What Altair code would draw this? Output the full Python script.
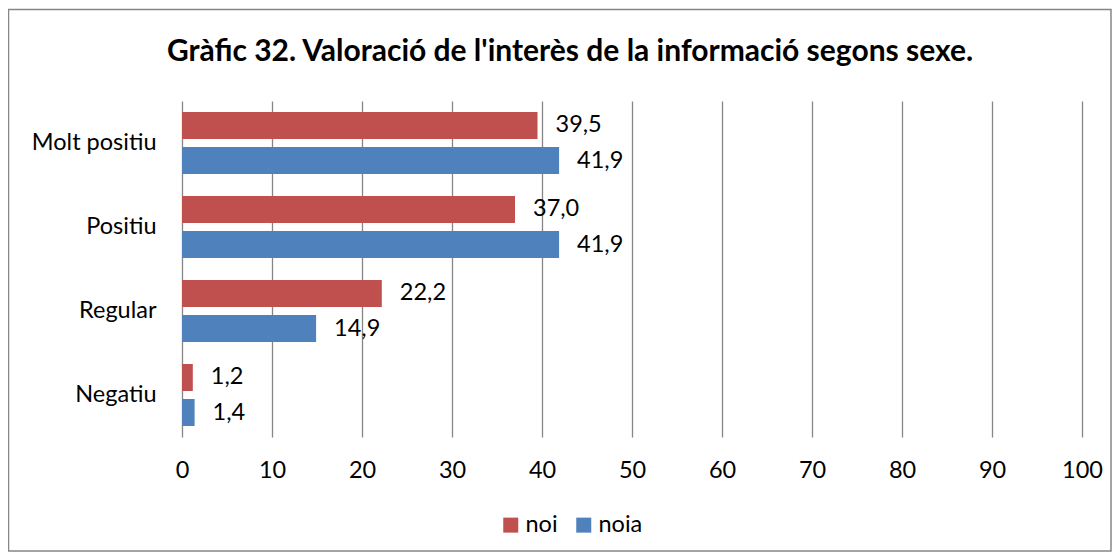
import altair as alt
import pandas as pd

categories = ["Molt positiu", "Positiu", "Regular", "Negatiu"]
noi = [39.5, 37.0, 22.2, 1.2]
noia = [41.9, 41.9, 14.9, 1.4]
series = ["noi", "noia"]
colors = ["#C0504D", "#4F81BD"]
x_ticks = [0, 10, 20, 30, 40, 50, 60, 70, 80, 90, 100]
title = "Gràfic 32. Valoració de l'interès de la informació segons sexe."

rows = []
for c, a, b in zip(categories, noi, noia):
    rows.append({"cat": c, "sexe": "noi", "val": a})
    rows.append({"cat": c, "sexe": "noia", "val": b})
df = pd.DataFrame(rows)
df["label"] = df["val"].map(lambda v: f"{v:.1f}".replace(".", ","))

FONT = "Lato"
FS = 23.5

base = alt.Chart(df).encode(
    y=alt.Y("cat:N", sort=categories,
            scale=alt.Scale(paddingInner=0.262, paddingOuter=0.131),
            axis=alt.Axis(title=None, domain=False, ticks=False, grid=False,
                          labelFontSize=FS, labelColor="#000000", labelFont=FONT,
                          labelPadding=26)),
    yOffset=alt.YOffset("sexe:N", sort=series,
                        scale=alt.Scale(paddingInner=0.229, paddingOuter=0)),
)

bars = base.mark_bar().encode(
    x=alt.X("val:Q", scale=alt.Scale(domain=[0, 100], nice=False),
            axis=alt.Axis(title=None, values=x_ticks, domain=False, ticks=False,
                          grid=True, gridColor="#868686", gridWidth=1.3,
                          labelFontSize=FS, labelColor="#000000", labelFont=FONT,
                          labelPadding=21, labelFlush=False)),
    color=alt.Color("sexe:N", sort=series,
                    scale=alt.Scale(domain=series, range=colors),
                    legend=alt.Legend(title=None, orient="none", legendX=317, legendY=412,
                                      direction="horizontal", symbolType="square",
                                      symbolSize=225, symbolStrokeWidth=0,
                                      labelFontSize=FS, labelFont=FONT,
                                      labelColor="#000000", columnPadding=14,
                                      labelOffset=3)),
)

labels = base.mark_text(align="left", baseline="middle", dx=18, fontSize=FS,
                        font=FONT, color="#000000").encode(
    x=alt.X("val:Q"),
    text="label:N",
)

frame = alt.Chart(pd.DataFrame({"k": [0]})).mark_rect(
    fill=None, stroke="#868686", strokeWidth=1.5
).encode(
    x=alt.value(-173.5), x2=alt.value(929), y=alt.value(-91.5), y2=alt.value(450)
)

title_mark = alt.Chart(pd.DataFrame({"t": [title]})).mark_text(
    fontSize=30, font=FONT, fontWeight="bold", color="#000000",
    align="center", baseline="middle"
).encode(
    x=alt.value(388), y=alt.value(-49), text="t:N"
)

chart = alt.layer(frame, bars, labels, title_mark).properties(
    width=900, height=336,
    autosize=alt.AutoSizeParams(type="none"),
    padding={"left": 174, "top": 93, "right": 30, "bottom": 115},
).configure_view(stroke=None)

chart.save("out.html", embed_options={"renderer": "svg", "actions": False})
